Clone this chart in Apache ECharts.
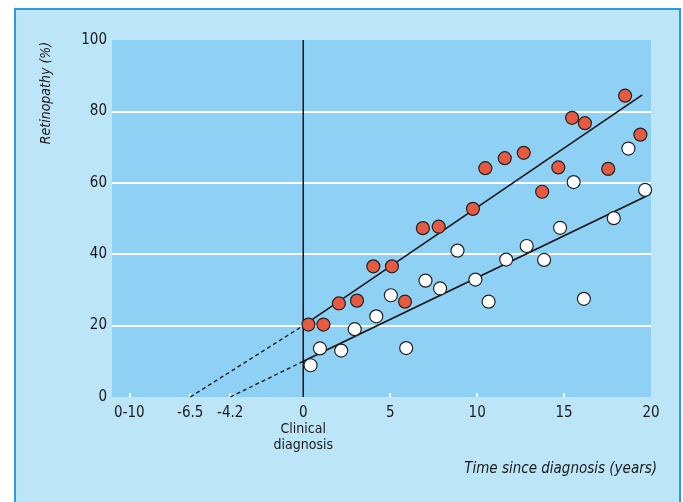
<!DOCTYPE html>
<html>
<head>
<meta charset="utf-8">
<script src="https://cdn.jsdelivr.net/npm/echarts@6/dist/echarts.min.js"></script>
<style>
html,body{margin:0;padding:0;background:#fff;}
#c{width:683px;height:502px;}
</style>
</head>
<body>
<div id="c"></div>
<script>
// ---- data ----
var redX = [0.30, 1.16, 2.05, 3.09, 4.03, 5.10, 5.85, 6.88, 7.79, 9.76, 10.47, 11.59, 12.68, 13.74, 14.67, 15.46, 16.20, 17.54, 18.51, 19.39];
var redY = [20.3, 20.3, 26.2, 27.0, 36.6, 36.6, 26.7, 47.3, 47.7, 52.7, 64.1, 66.9, 68.4, 57.5, 64.3, 78.2, 76.7, 63.9, 84.4, 73.5];
var whiteX = [0.42, 0.96, 2.18, 2.96, 4.20, 5.04, 5.92, 7.03, 7.87, 8.87, 9.90, 10.66, 11.67, 12.85, 13.85, 14.77, 15.55, 16.14, 17.86, 18.70, 19.66];
var whiteY = [8.9, 13.6, 13.0, 19.0, 22.6, 28.5, 13.7, 32.6, 30.4, 41.0, 32.9, 26.7, 38.5, 42.3, 38.4, 47.4, 60.2, 27.5, 50.1, 69.6, 58.0];
// fitted lines: [x, y] end points
var redFitX = [0, 19.5];
var redFitY = [20, 84.6];
var redExtX = [-6.5, 0];
var redExtY = [0, 20];
var whiteFitX = [0, 19.75];
var whiteFitY = [10, 56.3];
var whiteExtX = [-4.2, 0];
var whiteExtY = [0, 10];
var diagnosisX = [0, 0];
var diagnosisY = [0, 100];
// axis ticks / labels
var xLabelValues = [-10, -6.5, -4.2, 0, 5, 10, 15, 20];
var xLabelTexts = ['0-10', '-6.5', '-4.2', '0', '5', '10', '15', '20'];
var xTickValues = [-10, -6.5, -4.2, 5, 10, 15];
var yTicks = [0, 20, 40, 60, 80, 100];

function pairs(xs, ys){ return xs.map(function(x,i){ return [x, ys[i]]; }); }

var FONT = "'Liberation Sans Narrow','DejaVu Sans Condensed','Liberation Sans',sans-serif";

var chart = echarts.init(document.getElementById('c'), null, {renderer:'canvas'});
var lineStyleBlack = {color:'#111', width:1.5};

chart.setOption({
  backgroundColor: '#ffffff',
  animation: false,
  graphic: [
    {type:'rect', z:-10, shape:{x:15, y:9, width:665, height:510},
     style:{fill:'#bde5f8', stroke:'#2a9be0', lineWidth:2}},
    {type:'text', x:46, y:93, rotation:Math.PI/2, z:10,
     style:{text:'Retinopathy (%)', font:'italic 14px ' + FONT, fill:'#1a1a1a', textAlign:'center', textVerticalAlign:'middle'}},
    {type:'text', x:657, y:469, z:10,
     style:{text:'Time since diagnosis (years)', font:'italic 15px ' + FONT, fill:'#1a1a1a', textAlign:'right', textVerticalAlign:'middle'}}
  ],
  grid: {left:112, right:32, top:40, bottom:105, show:true, backgroundColor:'#8fd1f4', borderWidth:0},
  xAxis: {
    type:'value', min:-11, max:20,
    axisLine:{show:false},
    splitLine:{show:false},
    axisTick:{show:true, inside:true, length:4, lineStyle:{color:'#ffffff', width:2}, customValues: xTickValues},
    axisLabel:{
      customValues: xLabelValues,
      margin:8,
      color:'#1a1a1a', fontSize:15, fontFamily:FONT,
      formatter:function(v){
        var i = xLabelValues.indexOf(v);
        var t = i >= 0 ? xLabelTexts[i] : '';
        if (v === 0) return t + '\n{c|Clinical}\n{c|diagnosis}';
        return t;
      },
      lineHeight:16,
      rich:{c:{fontSize:14, fontFamily:FONT, color:'#1a1a1a', lineHeight:16}}
    }
  },
  yAxis: {
    type:'value', min:0, max:100, interval:20,
    axisLine:{show:false},
    axisTick:{show:false},
    splitLine:{show:true, showMinLine:false, showMaxLine:false, lineStyle:{color:'#ffffff', width:2}},
    axisLabel:{margin:5, color:'#1a1a1a', fontSize:15, fontFamily:FONT}
  },
  series: [
    {type:'line', data:pairs(diagnosisX, diagnosisY), symbol:'none', lineStyle:lineStyleBlack, z:2, silent:true},
    {type:'line', data:pairs(redFitX, redFitY), symbol:'none', lineStyle:lineStyleBlack, z:2, silent:true},
    {type:'line', data:pairs(redExtX, redExtY), symbol:'none', lineStyle:{color:'#111', width:1.3, type:[4,3]}, z:2, silent:true},
    {type:'line', data:pairs(whiteFitX, whiteFitY), symbol:'none', lineStyle:lineStyleBlack, z:2, silent:true},
    {type:'line', data:pairs(whiteExtX, whiteExtY), symbol:'none', lineStyle:{color:'#111', width:1.3, type:[4,3]}, z:2, silent:true},
    {type:'scatter', data:pairs(whiteX, whiteY), symbolSize:13,
     itemStyle:{color:'#ffffff', borderColor:'#222', borderWidth:1.2, opacity:1}, z:5},
    {type:'scatter', data:pairs(redX, redY), symbolSize:13,
     itemStyle:{color:'#e55a40', borderColor:'#222', borderWidth:1.2, opacity:1}, z:6}
  ]
});
</script>
</body>
</html>
